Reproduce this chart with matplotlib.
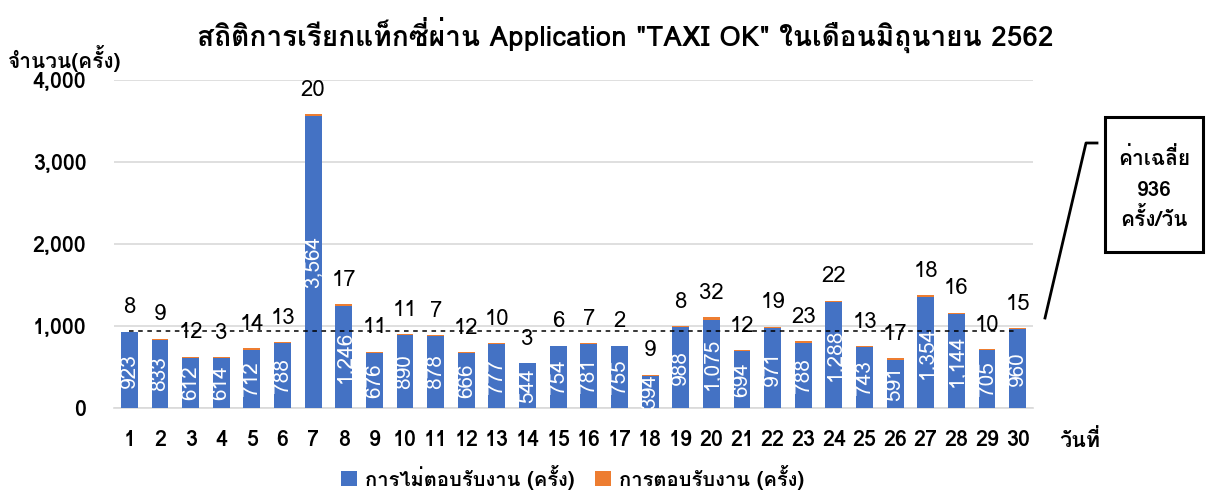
import matplotlib
matplotlib.use("Agg")
import matplotlib.pyplot as plt
from matplotlib import font_manager
from matplotlib.ft2font import FT2Font
from matplotlib.ticker import FuncFormatter
from matplotlib.patches import Rectangle
import numpy as np

days = [str(i) for i in range(1, 31)]
no_response = [923, 833, 612, 614, 712, 788, 3564, 1246, 676, 890, 878, 666, 777, 544, 754,
               781, 755, 394, 988, 1075, 694, 971, 788, 1288, 743, 591, 1354, 1144, 705, 960]
response = [8, 9, 12, 3, 14, 13, 20, 17, 11, 11, 7, 12, 10, 3, 6,
            7, 2, 9, 8, 32, 12, 19, 23, 22, 13, 17, 18, 16, 10, 15]
average = 936
yticks = [0, 1000, 2000, 3000, 4000]

# find a font with Thai glyphs
thai_font = None
for f in font_manager.fontManager.ttflist:
    try:
        ft = FT2Font(f.fname)
        if ft.get_char_index(0x0E01) != 0 and ft.get_char_index(0x0E31) != 0:
            thai_font = f.name
            if 'Noto' in f.name or 'Loma' in f.name or 'Garuda' in f.name:
                break
    except Exception:
        pass
fams = ([thai_font] if thai_font else []) + ['DejaVu Sans']
plt.rcParams['font.family'] = fams

blue = '#4472C4'
orange = '#ED7D31'

W, H = 1223, 490
fig = plt.figure(figsize=(W/100, H/100), dpi=100)
ax = fig.add_axes([114/W, 1-408/H, (1033-114)/W, (408-80)/H])

x = np.arange(len(days))
ax.bar(x, no_response, width=0.55, color=blue, zorder=3, label='การไม่ตอบรับงาน (ครั้ง)')
ax.bar(x, response, width=0.55, bottom=no_response, color=orange, zorder=3,
       label='การตอบรับงาน (ครั้ง)')

for xi, nr, r in zip(x, no_response, response):
    ax.text(xi, nr/2, f"{nr:,}", rotation=90, ha='center', va='center', color='white',
            fontsize=15, zorder=5)
    ax.annotate(str(r), (xi, nr + r), xytext=(0, 24), textcoords='offset pixels',
                ha='center', va='center', fontsize=16, color='black', zorder=5)

ax.plot([0, 29], [average, average], ls=(0, (3, 3)), color='black', lw=1.1, zorder=4)

ax.set_xlim(-0.5, 29.5)
ax.set_ylim(0, 4000)
ax.set_yticks(yticks)
ax.yaxis.set_major_formatter(FuncFormatter(lambda v, p: f"{int(v):,}"))
ax.set_xticks(x)
ax.set_xticklabels(days)
ax.grid(axis='y', color='#D9D9D9', lw=1.2, zorder=0)
for s in ['top', 'right', 'left']:
    ax.spines[s].set_visible(False)
ax.spines['bottom'].set_color('#D9D9D9')
ax.spines['bottom'].set_linewidth(1.2)
ax.tick_params(axis='both', length=0, labelsize=15.5)
ax.tick_params(axis='x', pad=16)
ax.tick_params(axis='y', pad=20)
for lbl in ax.get_xticklabels() + ax.get_yticklabels():
    lbl.set_fontweight('bold')

fig.text(625/W, 1-35/H, 'สถิติการเรียกแท็กซี่ผ่าน Application "TAXI OK" ในเดือนมิถุนายน 2562',
         ha='center', va='center', fontsize=20.2, fontweight='bold')
fig.text(65/W, 1-58/H, 'จำนวน(ครั้ง)', ha='center', va='center', fontsize=15, fontweight='bold')
fig.text(1080/W, 1-440/H, 'วันที่', ha='center', va='center', fontsize=15.5, fontweight='bold')

# annotation box
fig.add_artist(Rectangle((1105/W, 1-252/H), 98/W, 135/H, transform=fig.transFigure,
                         fc='white', ec='black', lw=2.2))
for txt, yy in [('ค่าเฉลี่ย', 158), ('936', 191), ('ครั้ง/วัน', 218)]:
    fig.text(1154/W, 1-yy/H, txt, ha='center', va='center', fontsize=15, fontweight='bold')
fig.add_artist(plt.Line2D([1045/W, 1086/W, 1097/W],
                          [1-318/H, 1-143/H, 1-143/H], color='black', lw=2))

leg = fig.legend(loc='center', bbox_to_anchor=(0.468, 1-477/H), ncol=2, frameon=False,
                 handlelength=0.8, handleheight=0.8, columnspacing=1.0,
                 handletextpad=0.4, prop={'weight': 'bold', 'size': 14.5})

fig.savefig('out.png', dpi=100)
